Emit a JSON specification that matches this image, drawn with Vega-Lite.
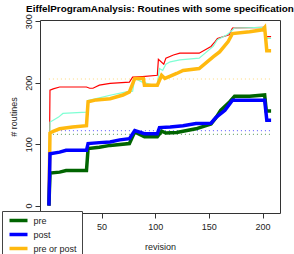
{
  "$schema": "https://vega.github.io/schema/vega-lite/v6.json",
  "width": 240,
  "height": 193,
  "autosize": {"type": "none"},
  "padding": {"left": 40, "top": 20, "right": 14, "bottom": 41},
  "background": "white",
  "title": {"text": "EiffelProgramAnalysis: Routines with some specification", "font": "Liberation Sans", "fontSize": 9.9, "fontWeight": "bold", "color": "black", "anchor": "middle", "frame": "group", "offset": 6, "dy": 6},
  "config": {
    "view": {"stroke": "#333", "strokeWidth": 1},
    "axis": {"grid": false, "domain": false, "tickColor": "#333", "tickSize": 5, "labelFont": "Liberation Sans", "labelFontSize": 9, "labelColor": "#222", "titleFont": "Liberation Sans", "titleFontSize": 9, "titleFontWeight": "normal", "titleColor": "#222"}
  },
  "datasets": {
    "lines": [
      {"s": "all", "x": 1, "y": 0}, {"s": "all", "x": 2, "y": 188}, {"s": "all", "x": 5, "y": 190}, {"s": "all", "x": 11, "y": 193}, {"s": "all", "x": 36, "y": 193}, {"s": "all", "x": 39, "y": 191}, {"s": "all", "x": 42, "y": 191}, {"s": "all", "x": 48, "y": 196}, {"s": "all", "x": 58, "y": 199}, {"s": "all", "x": 76, "y": 201}, {"s": "all", "x": 79, "y": 209}, {"s": "all", "x": 88, "y": 210}, {"s": "all", "x": 102, "y": 212}, {"s": "all", "x": 103, "y": 238}, {"s": "all", "x": 108, "y": 230}, {"s": "all", "x": 110, "y": 240}, {"s": "all", "x": 117, "y": 245}, {"s": "all", "x": 123, "y": 248}, {"s": "all", "x": 141, "y": 248}, {"s": "all", "x": 152, "y": 259}, {"s": "all", "x": 155, "y": 265}, {"s": "all", "x": 158, "y": 272}, {"s": "all", "x": 169, "y": 278}, {"s": "all", "x": 172, "y": 289}, {"s": "all", "x": 202, "y": 290}, {"s": "all", "x": 203, "y": 275}, {"s": "all", "x": 208, "y": 275},
      {"s": "some", "x": 1, "y": 0}, {"s": "some", "x": 2, "y": 136}, {"s": "some", "x": 5, "y": 139}, {"s": "some", "x": 10, "y": 144}, {"s": "some", "x": 14, "y": 150}, {"s": "some", "x": 36, "y": 152}, {"s": "some", "x": 37.5, "y": 171}, {"s": "some", "x": 45, "y": 174}, {"s": "some", "x": 59, "y": 180}, {"s": "some", "x": 73, "y": 185}, {"s": "some", "x": 79, "y": 186}, {"s": "some", "x": 81, "y": 207}, {"s": "some", "x": 88, "y": 201}, {"s": "some", "x": 98, "y": 196}, {"s": "some", "x": 102, "y": 197}, {"s": "some", "x": 104, "y": 223}, {"s": "some", "x": 107, "y": 220}, {"s": "some", "x": 110, "y": 230}, {"s": "some", "x": 114, "y": 234}, {"s": "some", "x": 123, "y": 237}, {"s": "some", "x": 141, "y": 240}, {"s": "some", "x": 154, "y": 259}, {"s": "some", "x": 158, "y": 270}, {"s": "some", "x": 167, "y": 278}, {"s": "some", "x": 174, "y": 289}, {"s": "some", "x": 202, "y": 290}, {"s": "some", "x": 203, "y": 272}, {"s": "some", "x": 208, "y": 272},
      {"s": "pre or post", "x": 1, "y": 0}, {"s": "pre or post", "x": 2, "y": 118}, {"s": "pre or post", "x": 5, "y": 121}, {"s": "pre or post", "x": 11, "y": 125}, {"s": "pre or post", "x": 23, "y": 128}, {"s": "pre or post", "x": 36, "y": 130}, {"s": "pre or post", "x": 37.5, "y": 169}, {"s": "pre or post", "x": 45, "y": 172}, {"s": "pre or post", "x": 58, "y": 174}, {"s": "pre or post", "x": 70, "y": 180}, {"s": "pre or post", "x": 76, "y": 185}, {"s": "pre or post", "x": 81, "y": 207}, {"s": "pre or post", "x": 89, "y": 207}, {"s": "pre or post", "x": 90, "y": 196}, {"s": "pre or post", "x": 102, "y": 196}, {"s": "pre or post", "x": 106, "y": 212}, {"s": "pre or post", "x": 109, "y": 207}, {"s": "pre or post", "x": 113, "y": 210}, {"s": "pre or post", "x": 120, "y": 215}, {"s": "pre or post", "x": 126, "y": 220}, {"s": "pre or post", "x": 141, "y": 223}, {"s": "pre or post", "x": 154, "y": 242}, {"s": "pre or post", "x": 160, "y": 250}, {"s": "pre or post", "x": 168, "y": 267}, {"s": "pre or post", "x": 172, "y": 280}, {"s": "pre or post", "x": 188, "y": 283}, {"s": "pre or post", "x": 200, "y": 286}, {"s": "pre or post", "x": 202, "y": 290}, {"s": "pre or post", "x": 204, "y": 252}, {"s": "pre or post", "x": 208, "y": 252},
      {"s": "pre", "x": 1, "y": 0}, {"s": "pre", "x": 2, "y": 53}, {"s": "pre", "x": 11, "y": 54.5}, {"s": "pre", "x": 17, "y": 57}, {"s": "pre", "x": 36, "y": 57}, {"s": "pre", "x": 37.5, "y": 93}, {"s": "pre", "x": 48, "y": 95}, {"s": "pre", "x": 58, "y": 98}, {"s": "pre", "x": 76, "y": 101}, {"s": "pre", "x": 81, "y": 120}, {"s": "pre", "x": 90, "y": 112}, {"s": "pre", "x": 102, "y": 112}, {"s": "pre", "x": 106, "y": 121}, {"s": "pre", "x": 110, "y": 118}, {"s": "pre", "x": 120, "y": 119}, {"s": "pre", "x": 138, "y": 125}, {"s": "pre", "x": 152, "y": 133}, {"s": "pre", "x": 157, "y": 144}, {"s": "pre", "x": 161, "y": 155}, {"s": "pre", "x": 169.5, "y": 169}, {"s": "pre", "x": 174, "y": 178}, {"s": "pre", "x": 188, "y": 178}, {"s": "pre", "x": 202, "y": 180}, {"s": "pre", "x": 203.5, "y": 154}, {"s": "pre", "x": 208, "y": 154},
      {"s": "post", "x": 1, "y": 0}, {"s": "post", "x": 2, "y": 84.5}, {"s": "post", "x": 11, "y": 87}, {"s": "post", "x": 17, "y": 90}, {"s": "post", "x": 36, "y": 90}, {"s": "post", "x": 37.5, "y": 101}, {"s": "post", "x": 48, "y": 102.5}, {"s": "post", "x": 58, "y": 103.5}, {"s": "post", "x": 67, "y": 107}, {"s": "post", "x": 76, "y": 109}, {"s": "post", "x": 81, "y": 122}, {"s": "post", "x": 90, "y": 117}, {"s": "post", "x": 102, "y": 117}, {"s": "post", "x": 104, "y": 127}, {"s": "post", "x": 114, "y": 128}, {"s": "post", "x": 126, "y": 130}, {"s": "post", "x": 138, "y": 133.5}, {"s": "post", "x": 152, "y": 134}, {"s": "post", "x": 157, "y": 144}, {"s": "post", "x": 165, "y": 155}, {"s": "post", "x": 172, "y": 171.6}, {"s": "post", "x": 202, "y": 171.6}, {"s": "post", "x": 204, "y": 139}, {"s": "post", "x": 208, "y": 139}
    ],
    "levels": [
      {"s": "pre", "y": 116, "x0": 1, "x1": 207},
      {"s": "post", "y": 122, "x0": 1, "x1": 207},
      {"s": "pre or post", "y": 206, "x0": 1, "x1": 207}
    ]
  },
  "layer": [
    {
      "data": {"name": "levels"},
      "mark": {"type": "rule", "strokeDash": [1, 3], "strokeWidth": 1.2, "strokeOpacity": 0.55},
      "encoding": {
        "x": {"field": "x0", "type": "quantitative"},
        "x2": {"field": "x1"},
        "y": {"field": "y", "type": "quantitative"},
        "color": {"field": "s", "type": "nominal"}
      }
    },
    {
      "data": {"name": "lines"},
      "transform": [{"filter": "datum.s == 'all' || datum.s == 'some'"}],
      "mark": {"type": "line", "strokeWidth": 1.2},
      "encoding": {
        "x": {"field": "x", "type": "quantitative"},
        "y": {"field": "y", "type": "quantitative"},
        "detail": {"field": "s"},
        "color": {"field": "s", "type": "nominal"}
      }
    },
    {
      "data": {"name": "lines"},
      "transform": [{"filter": "datum.s != 'all' && datum.s != 'some'"}],
      "mark": {"type": "line", "strokeWidth": 3.5},
      "encoding": {
        "x": {"field": "x", "type": "quantitative", "scale": {"domain": [-7.3, 216.3], "nice": false, "zero": false}, "axis": {"values": [50, 100, 150, 200], "title": "revision", "labelPadding": 4, "titlePadding": 11}},
        "y": {"field": "y", "type": "quantitative", "scale": {"domain": [-12, 302], "nice": false, "zero": false}, "axis": {"values": [0, 50, 100, 150, 200, 250, 300], "title": "# routines", "labelAngle": -90, "labelAlign": "center", "labelBaseline": "middle", "labelPadding": 7, "titlePadding": 6}},
        "color": {"field": "s", "type": "nominal",
          "scale": {"domain": ["all", "some", "pre", "post", "pre or post"], "range": ["#ff0000", "#7fffd4", "#006400", "#0000ff", "#ffb90f"]},
          "legend": {"values": ["pre", "post", "pre or post"], "title": null, "orient": "none", "legendX": -38, "legendY": 191, "padding": 5, "fillColor": "white", "strokeColor": "#444", "symbolType": "M-3.6,0L3.6,0", "symbolStrokeWidth": 3.5, "symbolSize": 25, "symbolOffset": 7, "symbolDash": [], "labelFont": "Liberation Sans", "labelFontSize": 9, "labelColor": "#222", "labelOffset": 10.5, "rowPadding": -1, "labelBaseline": "middle"}}
      }
    }
  ]
}
